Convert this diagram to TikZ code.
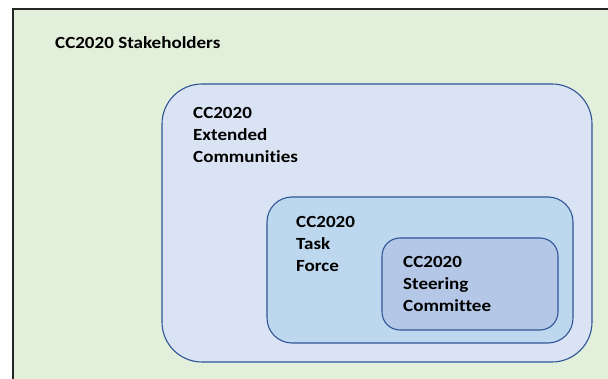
\documentclass[tikz,border=0pt]{standalone}
\usepackage{fontspec}
\setmainfont{Carlito}[FakeStretch=1.12, Ligatures=NoCommon]
\usetikzlibrary{positioning}

\definecolor{stakegreen}{HTML}{E2EFDA}
\definecolor{extblue}{HTML}{DAE3F3}
\definecolor{taskblue}{HTML}{BDD7EE}
\definecolor{steerblue}{HTML}{B4C7E7}
\definecolor{edgeblue}{HTML}{2F5597}

\begin{document}
\begin{tikzpicture}[
        x=1pt, y=-1pt,
        frame/.style={rectangle, draw=black!85, line width=1.6pt, fill=stakegreen, inner sep=0pt, anchor=north west},
        circle box/.style={rectangle, draw=edgeblue, line width=1.1pt, inner sep=0pt},
        lbl/.style={anchor=north west, align=left, inner sep=0pt, font=\bfseries\fontsize{17}{22}\selectfont},
    ]
        \path[use as bounding box, clip] (0,0) rectangle (608,379);

        % Draw the stakeholder frame (runs off the page)
        \node[frame, minimum width=640pt, minimum height=420pt] (stake) at (12,8.5) {};

        % Draw the nested groups
        \node[circle box, fill=extblue, rounded corners=40pt,
              minimum width=430pt, minimum height=278pt] (ext) at (377,223) {};
        \node[circle box, fill=taskblue, rounded corners=25pt,
              minimum width=306pt, minimum height=146pt] (task) at (420,270) {};
        \node[circle box, fill=steerblue, rounded corners=18pt,
              minimum width=176pt, minimum height=92pt] (steer) at (470,284) {};

        % Labels
        \node[lbl] (stake-lbl) at (55,36) {CC2020 Stakeholders};
        \node[lbl] (ext-lbl) at (193,107.5) {CC2020\\Extended\\Communities};
        \node[lbl] (task-lbl) at (296,216) {CC2020\\Task\\Force};
        \node[lbl] (steer-lbl) at (403,256.5) {CC2020\\Steering\\Committee};
\end{tikzpicture}
\end{document}
